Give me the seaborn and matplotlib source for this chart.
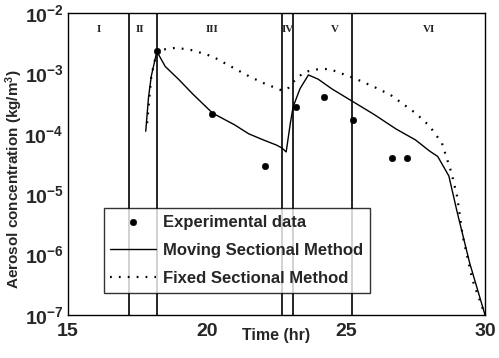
import matplotlib
matplotlib.use("Agg")
import matplotlib.pyplot as plt
import seaborn as sns
import numpy as np
from matplotlib.ticker import LogLocator, MultipleLocator, NullFormatter

sns.set_style("white")
plt.rcParams['font.family'] = ['Liberation Sans', 'DejaVu Sans']
plt.rcParams['mathtext.fontset'] = 'custom'
plt.rcParams['mathtext.rm'] = 'Liberation Sans:bold'
plt.rcParams['mathtext.it'] = 'Liberation Sans:bold:italic'
plt.rcParams['mathtext.bf'] = 'Liberation Sans:bold'

# experimental data
exp_time = [18.2, 20.2, 22.1, 23.2, 24.2, 25.25, 26.65, 27.2]
exp_conc = [2.3e-3, 2.1e-4, 2.9e-5, 2.8e-4, 4.1e-4, 1.7e-4, 4.0e-5, 4.0e-5]

# moving sectional method
mov_time = [17.8, 17.9, 18.0, 18.2, 18.5, 19.0, 19.5, 20.2, 21.0, 21.5, 22.0, 22.5,
            22.7, 22.85, 23.0, 23.1, 23.35, 23.65, 24.0, 24.5, 25.25, 26.0, 26.8,
            27.5, 28.0, 28.3, 28.7, 29.0, 29.45, 30.0]
mov_conc = [1.1e-4, 4e-4, 9e-4, 2.3e-3, 1.3e-3, 7.8e-4, 4.5e-4, 2.2e-4, 1.4e-4, 1.0e-4,
            8e-5, 6.5e-5, 5.8e-5, 5e-5, 1.5e-4, 2.8e-4, 5.6e-4, 9.4e-4, 8e-4, 5.5e-4,
            3.4e-4, 2.1e-4, 1.2e-4, 7.9e-5, 5.2e-5, 4.2e-5, 2e-5, 5e-6, 7.2e-7, 1e-7]

# fixed sectional method
fix_time = [17.85, 18.0, 18.2, 18.5, 18.9, 19.5, 20.2, 21.0, 21.5, 22.0, 22.7, 22.9,
            23.1, 23.5, 24.0, 24.4, 25.3, 26.0, 26.6, 27.5, 28.0, 28.45, 28.8, 29.0,
            29.2, 29.55, 30.0]
fix_conc = [1.5e-4, 9e-4, 2.3e-3, 2.5e-3, 2.65e-3, 2.4e-3, 1.9e-3, 1.2e-3, 9e-4, 7e-4,
            5.2e-4, 5.5e-4, 7.2e-4, 1.05e-3, 1.17e-3, 1.18e-3, 8.3e-4, 6e-4, 4.4e-4,
            2.2e-4, 1.35e-4, 7e-5, 2.2e-5, 9e-6, 2e-6, 3.8e-7, 1e-7]

# section boundaries and labels
bounds = [17.2, 18.2, 22.7, 23.1, 25.2]
sec_labels = ['I', 'II', 'III', 'IV', 'V', 'VI']
sec_pos = [16.1, 17.6, 20.2, 22.9, 24.6, 28.0]

fig = plt.figure(figsize=(4.99, 3.58), dpi=100)
ax = fig.add_axes([0.136, 0.12, 0.836, 0.844])

sns.scatterplot(x=exp_time, y=exp_conc, ax=ax, color='black', s=22, marker='o',
                edgecolor='black', label='Experimental data', zorder=4)
sns.lineplot(x=mov_time, y=mov_conc, ax=ax, color='black', linewidth=1.0,
             label='Moving Sectional Method', sort=False, estimator=None)
sns.lineplot(x=fix_time, y=fix_conc, ax=ax, color='black', linewidth=1.6,
             linestyle=(0, (0.8, 3.2)), label='Fixed Sectional Method',
             sort=False, estimator=None)

for b in bounds:
    ax.axvline(b, color='black', linewidth=1.2, zorder=1)

for lab, p in zip(sec_labels, sec_pos):
    ax.text(p, 10**-2.28, lab, ha='center', va='center', fontsize=8,
            fontweight='bold', family='Liberation Serif')

ax.set_yscale('log')
ax.set_xlim(15, 30)
ax.set_ylim(1e-7, 1e-2)
ax.xaxis.set_major_locator(MultipleLocator(5))
ax.xaxis.set_minor_locator(MultipleLocator(1))
ax.yaxis.set_major_locator(LogLocator(base=10, numticks=10))
ax.yaxis.set_minor_locator(LogLocator(base=10, subs=np.arange(2, 10), numticks=20))
ax.yaxis.set_minor_formatter(NullFormatter())
ax.tick_params(which='both', direction='in', top=False, right=False)
ax.tick_params(which='major', length=4, labelsize=14, pad=3)
ax.tick_params(axis='x', which='major', pad=6)
ax.tick_params(which='minor', length=2)
for t in ax.get_xticklabels() + ax.get_yticklabels():
    t.set_fontweight('bold')
for s in ax.spines.values():
    s.set_visible(True)
    s.set_color('black')
    s.set_linewidth(1.0)

ax.set_xlabel('Time (hr)', fontsize=11.5, fontweight='bold', labelpad=-9)
ax.set_ylabel('Aerosol concentration (kg/m$^3$)', fontsize=11, fontweight='bold')
ax.yaxis.set_label_coords(-0.102, 0.45)

leg = ax.legend(loc='lower left', bbox_to_anchor=(0.086, 0.073, 0.638, 0.287),
                mode='expand', frameon=True, fancybox=False,
                prop={'size': 12, 'weight': 'bold'},
                handlelength=2.75, borderaxespad=0, labelspacing=0.8,
                handletextpad=0.4, borderpad=0.4)
leg.get_frame().set_edgecolor('black')
leg.get_frame().set_linewidth(1.0)

fig.savefig('out.png', dpi=100)
